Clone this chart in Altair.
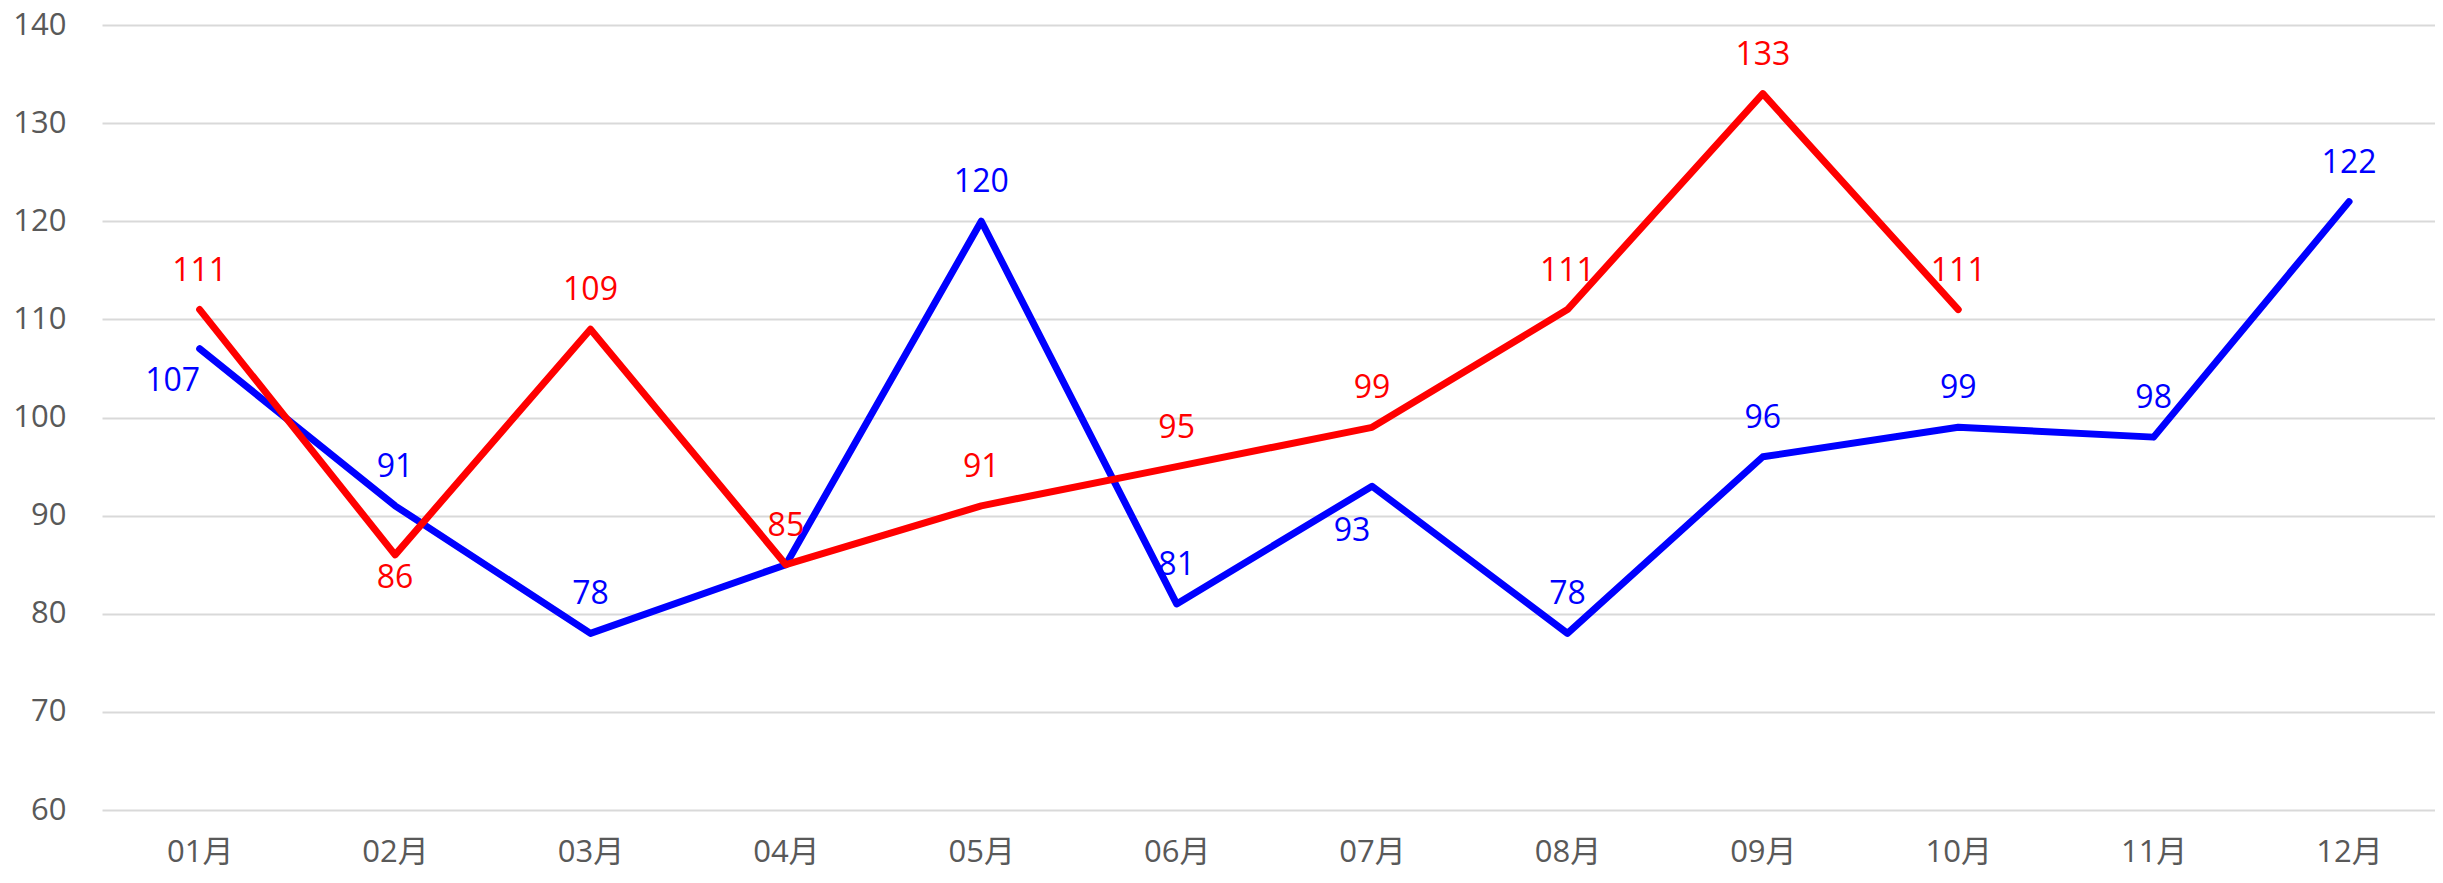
import json
import altair as alt
import pandas as pd

# ---- data ----
months = ["01月", "02月", "03月", "04月", "05月", "06月",
          "07月", "08月", "09月", "10月", "11月", "12月"]
blue_values = [107, 91, 78, 85, 120, 81, 93, 78, 96, 99, 98, 122]
red_values = [111, 86, 109, 85, 91, 95, 99, 111, 133, 111]
blue_label_pos = ["left", "above", "above", "hidden", "above", "above",
                  "lowerleft", "above", "above", "above", "above", "above"]
red_label_pos = ["above", "below", "above", "above", "above", "above",
                 "above", "above", "above", "above"]
y_ticks = [60, 70, 80, 90, 100, 110, 120, 130, 140]

rows = []
for i, v in enumerate(blue_values):
    rows.append({"month": months[i], "idx": i + 1, "value": v, "series": "blue", "pos": blue_label_pos[i]})
for i, v in enumerate(red_values):
    rows.append({"month": months[i], "idx": i + 1, "value": v, "series": "red", "pos": red_label_pos[i]})
df = pd.DataFrame(rows)

FONT = "Open Sans, Noto Sans CJK SC, sans-serif"
GRAY = "#595959"

color = alt.Color("series:N", scale=alt.Scale(domain=["blue", "red"], range=["#0000FF", "#FF0000"]), legend=None)

x = alt.X(
    "idx:Q",
    scale=alt.Scale(domain=[0.5, 12.44], nice=False, zero=False),
    axis=alt.Axis(
        values=list(range(1, 13)),
        labelExpr=json.dumps(months, ensure_ascii=False) + "[datum.value - 1]",
        grid=False, ticks=False, tickSize=0, domain=False,
        labelFont=FONT, labelFontSize=31, labelColor=GRAY, labelPadding=27,
        labelFlush=False, labelOverlap=False, title=None,
    ),
)
y = alt.Y(
    "value:Q",
    scale=alt.Scale(domain=[60, 140], nice=False, zero=False),
    axis=alt.Axis(
        values=y_ticks, grid=True, gridColor="#D9D9D9", gridWidth=2,
        ticks=False, tickSize=0, domain=False,
        labelFont=FONT, labelFontSize=31, labelColor=GRAY, labelPadding=36,
        title=None,
    ),
)

base = alt.Chart(df)

blue_line = base.transform_filter(alt.datum.series == "blue").mark_line(
    strokeWidth=7, strokeCap="round", strokeJoin="round"
).encode(x=x, y=y, color=color)
red_line = base.transform_filter(alt.datum.series == "red").mark_line(
    strokeWidth=7, strokeCap="round", strokeJoin="round"
).encode(x=x, y=y, color=color)

offsets = {"above": (0, -39), "below": (0, 23), "left": (-27, 32), "lowerleft": (-20, 45)}

text_layers = []
for series in ["blue", "red"]:
    for pos, (dx, dy) in offsets.items():
        text_layers.append(
            base.transform_filter((alt.datum.series == series) & (alt.datum.pos == pos))
            .mark_text(font=FONT, fontSize=32, dx=dx, dy=dy, baseline="middle", align="center")
            .encode(x=x, y=y, color=color, text=alt.Text("value:Q"))
        )

chart = alt.layer(blue_line, red_line, *text_layers).properties(
    width=2333, height=785,
    padding={"left": 94, "top": 17, "right": 0, "bottom": 64},
    autosize=alt.AutoSizeParams(type="none"),
    background="white",
).configure_view(stroke=None)

chart.save("out.html", embed_options={"renderer": "svg", "actions": False})
